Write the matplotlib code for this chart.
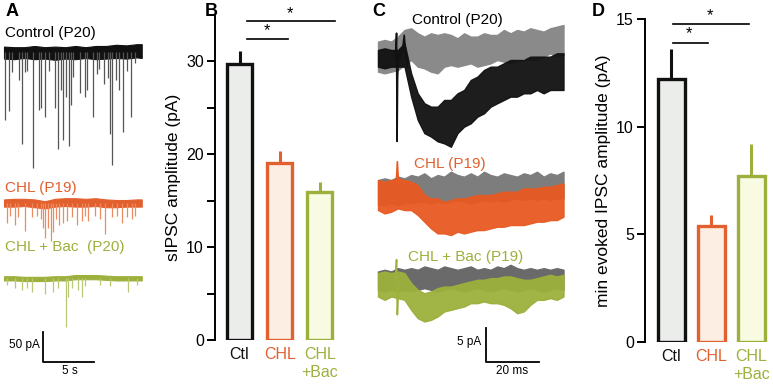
import matplotlib
matplotlib.use("Agg")
import matplotlib.pyplot as plt
import numpy as np

plt.rcParams['font.family'] = ['Liberation Sans', 'DejaVu Sans']

W, H = 773, 384

# ---------------- data ----------------
groups = ["Ctl", "CHL", "CHL\n+Bac"]
edge_cols = ["#111111", "#e2602e", "#9cb03c"]
fill_cols = ["#ebedeb", "#fdeee4", "#f9fae2"]

sipsc_mean = [29.7, 19.1, 15.9]
sipsc_err = [1.4, 1.3, 1.1]
evoked_mean = [12.2, 5.4, 7.7]
evoked_err = [1.4, 0.5, 1.5]

# Panel A: spontaneous events (time s, amplitude pA)
ctrl_evt_t = [0.10, 0.49, 0.82, 1.47, 1.73, 2.06, 2.22, 2.88, 3.43, 3.59, 4.02, 4.41, 5.00, 5.26,
              5.56, 5.82, 6.05, 6.37, 6.54, 6.80, 7.45, 7.94, 8.17, 8.69, 9.08, 9.35, 9.84, 10.16,
              10.39, 10.56, 10.95, 11.31, 11.70, 12.03, 12.42, 12.84]
ctrl_evt_amp = [114, 98, 33, 47, 153, 33, 31, 194, 97, 94, 108, 31, 94, 161, 64, 147, 75, 156, 89,
                42, 69, 75, 64, 108, 36, 28, 53, 44, 136, 189, 47, 64, 133, 31, 108, 19]
chl_evt_t = [0.26, 0.59, 1.08, 1.41, 2.06, 2.71, 3.20, 3.59, 3.79, 4.02, 4.28, 4.61, 4.84, 5.10,
             5.42, 5.75, 6.14, 6.63, 7.12, 7.61, 7.94, 8.27, 8.92, 9.41, 9.90, 10.56, 11.04, 11.53,
             12.03, 12.52, 12.84]
chl_evt_amp = [33, 22, 36, 24, 47, 24, 22, 27, 41, 58, 41, 63, 49, 27, 36, 33, 30, 24, 36, 30, 22,
               30, 22, 27, 52, 24, 22, 33, 24, 27, 22]
bac_evt_t = [0.26, 1.08, 1.73, 2.22, 2.78, 4.02, 4.84, 5.33, 6.08, 6.31, 6.63, 7.29, 7.68, 7.94,
             9.41, 10.39, 12.19, 13.01]
bac_evt_amp = [12, 17, 20, 17, 23, 26, 23, 17, 82, 31, 17, 20, 31, 14, 12, 14, 23, 12]

# Panel A: baseline noise envelopes (pA)
base_t = [0, 1, 2, 3, 4, 5, 6, 7, 8, 9, 10, 11, 12, 13, 13.5]
ctrl_base_hi = [9, 8, 8, 10, 8, 9, 8, 10, 8, 10, 10, 12, 11, 13, 13]
ctrl_base_lo = [-11, -12, -10, -12, -11, -13, -11, -12, -10, -12, -11, -10, -11, -9, -10]
chl_base_hi = [6, 7, 7, 6, 3, 7, 8, 8, 7, 8, 6, 5, 5, 6, 6]
chl_base_lo = [-6, -6, -5, -7, -9, -6, -5, -6, -6, -5, -7, -7, -6, -6, -6]
bac_base_hi = [3, 3, 2, 2, 2, 3, 3, 5, 5, 5, 4, 3, 3, 3, 3]
bac_base_lo = [-4, -4, -5, -5, -5, -4, -4, -2, -2, -2, -3, -4, -4, -4, -4]

# Panel C: evoked sweeps envelopes (ms, pA)
ev_t = [0, 2.5, 5, 7.5, 10, 12.5, 15, 17.5, 20, 22.5, 25, 27.5, 30, 32.5, 35, 37.5, 40, 42.5, 45,
        47.5, 50, 52.5, 55, 57.5, 60, 62.5, 65, 67.5, 70]
ctl_fail_hi = [2.26, 2.5, 2.26, 2.99, 3.97, 4.22, 3.48, 2.99, 3.48, 3.24, 3.48, 3.24, 2.75, 3.48,
               2.99, 2.99, 3.48, 3.24, 3.24, 3.97, 3.48, 3.97, 3.73, 4.22, 3.97, 3.73, 4.22, 4.46, 4.7]
ctl_fail_lo = [-2.16, -2.4, -2.16, -1.91, -1.18, -0.44, -1.42, -1.67, -2.16, -2.4, -1.42, -1.18,
               -1.42, -1.18, -0.93, -1.42, -1.18, -0.93, -0.44, -0.69, -0.93, -0.44, -0.2, -0.44,
               -0.44, 0.05, 0.54, 0.05, 0.29]
ctl_succ_hi = [1.03, 1.27, 1.03, 1.03, 2.01, -2.4, -5.34, -6.8, -7.3, -7.3, -6.32, -6.32, -5.34,
               -4.85, -3.38, -2.89, -1.91, -1.42, -1.42, -0.93, -0.44, -0.44, -0.44, 0.05, 0.05,
               0.05, 0.05, 0.54, 0.54]
ctl_succ_lo = [-1.42, -1.67, -1.42, -1.42, -1.42, -5.83, -9.26, -11.2, -11.7, -12.4, -12.7, -13.2,
               -11.2, -10.24, -9.75, -8.77, -8.28, -7.3, -6.8, -6.32, -5.83, -5.83, -5.34, -5.34,
               -4.85, -5.34, -4.85, -4.85, -4.85]
chl_fail_hi = [2.21, 2.45, 2.21, 2.70, 2.45, 2.94, 2.70, 3.19, 2.45, 2.94, 2.70, 3.43, 2.94, 2.70,
               3.19, 2.70, 3.43, 2.94, 2.70, 3.19, 2.94, 2.70, 3.19, 2.94, 3.43, 2.70, 3.19, 2.94, 3.43]
chl_fail_lo = [-1.47, -1.47, -1.23, -1.47, -1.23, -1.23, -0.98, -0.98, -1.23, -0.98, -1.23, -0.98,
               -0.74, -0.98, -1.23, -0.98, -0.74, -0.98, -0.74, -0.98, -0.74, -0.49, -0.74, -0.49,
               -0.74, -0.49, -0.74, -0.49, -0.49]
chl_succ_hi = [2.21, 1.96, 2.21, 2.45, 2.21, 1.96, 1.47, 0, -0.49, -0.49, -0.98, -0.74, -0.49,
               -0.49, -0.25, 0, 0, 0, 0.25, 0.49, 0.49, 0.49, 0.98, 0.98, 0.98, 1.23, 1.23, 1.47, 1.72]
chl_succ_lo = [-2.21, -2.70, -2.45, -1.96, -2.21, -2.21, -2.94, -3.92, -4.9, -5.64, -5.64, -5.88,
               -5.39, -5.64, -5.39, -5.15, -5.15, -4.9, -4.66, -4.66, -4.41, -4.41, -4.41, -4.17,
               -3.92, -3.92, -3.68, -3.68, -3.19]
bac_fail_hi = [1.96, 2.21, 1.96, 2.45, 2.21, 2.45, 2.21, 2.70, 2.45, 2.21, 2.70, 2.45, 2.21, 2.45,
               2.70, 2.21, 2.45, 2.21, 2.70, 2.45, 2.94, 2.45, 2.21, 2.45, 2.21, 2.45, 2.21, 2.45, 2.21]
bac_fail_lo = [-0.74, -0.98, -0.74, -0.98, -0.74, -0.98, -0.74, -0.49, -0.74, -0.98, -0.74, -0.49,
               -0.74, -0.98, -0.74, -0.49, -0.74, -0.98, -0.74, -0.49, -0.74, -0.98, -0.74, -0.49,
               -0.74, -0.98, -0.74, -0.49, -0.74]
bac_succ_hi = [1.72, 1.96, 1.72, 1.96, 1.72, 0.25, -0.74, -1.23, -0.98, -0.49, -0.25, -0.25, 0,
               0.25, 0.49, 0.74, 0.74, 0.98, 0.98, 1.23, 1.23, 0.98, 0.74, 0.74, 0.98, 1.23, 1.47,
               1.23, 1.47]
bac_succ_lo = [-1.72, -2.21, -1.72, -1.96, -2.21, -3.68, -4.9, -5.39, -5.15, -4.66, -3.92, -3.68,
               -3.43, -3.19, -2.70, -2.70, -2.45, -2.70, -2.70, -2.94, -3.43, -4.17, -3.92, -2.94,
               -2.21, -2.21, -1.96, -2.21, -1.72]
# stimulus artefacts (ms, pA)
ctl_art_t = [6.6, 7.0, 7.2, 7.4, 7.8, 8.6, 9.4, 9.9, 10.4, 11.2]
ctl_art_v = [0.0, 3.5, -12.4, -3.0, 0.5, 0.0, 1.5, 3.2, 0.5, -1.5]
chl_art_t = [6.6, 7.0, 7.3, 7.7, 8.2]
chl_art_v = [1.5, 2.5, 4.9, 2.0, 1.0]
bac_art_t = [6.6, 7.0, 7.3, 7.7, 8.2]
bac_art_v = [1.0, 3.7, -4.4, -1.0, 0.5]

# ---------------- figure ----------------
fig = plt.figure(figsize=(W / 100, H / 100), dpi=100)


def px_axes(x0, y0, x1, y1):
    return fig.add_axes([x0 / W, 1 - y1 / H, (x1 - x0) / W, (y1 - y0) / H])


def ftext(x, y, s, **kw):
    fig.text(x / W, 1 - y / H, s, **kw)


# Panel letters
for lab, x in zip("ABCD", [6, 205, 372, 592]):
    ftext(x, 11, lab, fontsize=13, fontweight="bold", va="center", ha="left")

# ---------- Panel A ----------
axA = px_axes(0, 20, 150, 375)
axA.set_xlim(-0.392, 14.31)
axA.set_ylim(-538.3, 53.3)
axA.axis("off")
tracesA = [
    (0.0, ctrl_base_hi, ctrl_base_lo, ctrl_evt_t, ctrl_evt_amp, "#111111", "#555555"),
    (-251.7, chl_base_hi, chl_base_lo, chl_evt_t, chl_evt_amp, edge_cols[1], "#ee8a60"),
    (-376.7, bac_base_hi, bac_base_lo, bac_evt_t, bac_evt_amp, edge_cols[2], "#b8c873"),
]
for off, hi, lo, et, ea, col, ecol in tracesA:
    hi = np.array(hi) + off
    lo = np.array(lo) + off
    axA.fill_between(base_t, lo, hi, color=col, lw=0.8, edgecolor=col)
    axA.vlines(et, off - np.array(ea), off, color=ecol, lw=0.9)
# scale bar
axA.plot([3.82, 3.82, 8.82], [-466.7, -516.7, -516.7], color="black", lw=1.3, clip_on=False)
ftext(40, 345, "50 pA", fontsize=8.5, ha="right", va="center")
ftext(70, 371, "5 s", fontsize=8.5, ha="center", va="center")
ftext(5, 33, "Control (P20)", fontsize=11, ha="left", va="center", color="black")
ftext(5, 188, "CHL (P19)", fontsize=11, ha="left", va="center", color=edge_cols[1])
ftext(5, 247, "CHL + Bac  (P20)", fontsize=11, ha="left", va="center", color=edge_cols[2])

# ---------- Panel C ----------
axC = px_axes(370, 10, 575, 375)
axC.set_xlim(-3.02, 74.34)
axC.set_ylim(-46.76, 6.91)
axC.axis("off")
tracesC = [
    (0.0, ctl_fail_hi, ctl_fail_lo, ctl_succ_hi, ctl_succ_lo, "#8a8a8a", "#111111", ctl_art_t, ctl_art_v),
    (-20.3, chl_fail_hi, chl_fail_lo, chl_succ_hi, chl_succ_lo, "#7d7d7d", "#e85a22", chl_art_t, chl_art_v),
    (-33.5, bac_fail_hi, bac_fail_lo, bac_succ_hi, bac_succ_lo, "#6a6a6a", "#9cb03c", bac_art_t, bac_art_v),
]
for off, fh, fl, sh, sl, gcol, ccol, at, av in tracesC:
    axC.fill_between(ev_t, np.array(fl) + off, np.array(fh) + off, color=gcol, lw=1.0, edgecolor=gcol)
    axC.fill_between(ev_t, np.array(sl) + off, np.array(sh) + off, color=ccol, lw=1.0, edgecolor=ccol,
                     alpha=0.95)
    axC.plot(at, np.array(av) + off, color=ccol, lw=1.2)
axC.plot([40.75, 40.75, 60.75], [-39.85, -44.85, -44.85], color="black", lw=1.3, clip_on=False)
ftext(481, 342, "5 pA", fontsize=8.5, ha="right", va="center")
ftext(512, 371, "20 ms", fontsize=8.5, ha="center", va="center")
ftext(457, 20, "Control (P20)", fontsize=11, ha="center", va="center", color="black")
ftext(450, 164, "CHL (P19)", fontsize=11, ha="center", va="center", color=edge_cols[1])
ftext(466, 257, "CHL + Bac (P19)", fontsize=11, ha="center", va="center", color=edge_cols[2])


# ---------- bar panels ----------
def bar_panel(ax, means, errs, ymax, yticks, ylabels, ylabel, width, sig):
    x = np.arange(len(means))
    ax.bar(x, means, width=width, color=fill_cols, edgecolor=edge_cols, linewidth=2.4, zorder=2)
    for xi, m, e, c in zip(x, means, errs, edge_cols):
        ax.plot([xi, xi], [m, m + e], color=c, lw=2.2, solid_capstyle="butt", zorder=1)
    ax.set_ylim(0, ymax)
    ax.set_yticks(yticks)
    ax.set_yticklabels(ylabels, fontsize=11.5)
    ax.set_ylabel(ylabel, fontsize=12.5, labelpad=4)
    for s in ["top", "right", "bottom"]:
        ax.spines[s].set_visible(False)
    ax.spines["left"].set_linewidth(1.4)
    ax.tick_params(axis="y", length=6, width=1.4, pad=2)
    ax.set_xticks(x)
    ax.set_xticklabels(groups, fontsize=11.5, linespacing=1.25, va="top")
    ax.tick_params(axis="x", length=0, pad=5)
    for tl, c in zip(ax.get_xticklabels(), edge_cols):
        tl.set_color(c)
    ax.patch.set_alpha(0)
    for (x0, x1, y, sx, sy) in sig:
        ax.plot([x0, x1], [y, y], color="black", lw=1.2, clip_on=False)
        ax.text(sx, sy, "*", ha="center", va="center", fontsize=12, clip_on=False)


axB = px_axes(215, 15, 340, 340)
axB.set_xlim(-0.61, 2.5)
bar_panel(axB, sipsc_mean, sipsc_err, 35, [0, 5, 10, 15, 20, 25, 30, 35],
          ["0", "", "10", "", "20", "", "30", ""], "sIPSC amplitude (pA)", 0.62,
          [(0.19, 2.38, 34.4, 1.26, 35.2), (0.19, 1.21, 32.4, 0.68, 33.3)])

axD = px_axes(645, 19, 773, 341.7)
axD.set_xlim(-0.66, 2.54)
bar_panel(axD, evoked_mean, evoked_err, 15, [0, 5, 10, 15], ["0", "5", "10", "15"],
          "min evoked IPSC amplitude (pA)", 0.67,
          [(0.04, 1.94, 14.78, 0.96, 15.15), (0.04, 0.91, 13.9, 0.44, 14.3)])

fig.savefig("out.png", dpi=100)
